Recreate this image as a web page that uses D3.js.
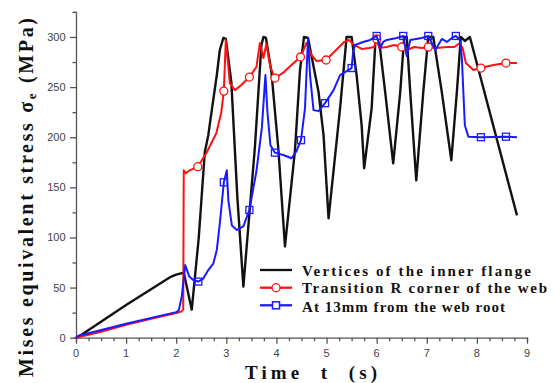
<!DOCTYPE html>
<html><head><meta charset="utf-8">
<script src="https://cdn.jsdelivr.net/npm/d3@7/dist/d3.min.js"></script>
<style>
html,body{margin:0;padding:0;background:#fff;}
svg{display:block;}
.serif{font-family:'Liberation Serif','DejaVu Serif','Times New Roman',serif;}
.sans{font-family:'Liberation Sans',Arial,sans-serif;}
</style></head>
<body>
<svg id="chart" width="554" height="383"></svg>
<script>
// ---------- DATA ----------
const xTicks = [0,1,2,3,4,5,6,7,8,9];
const yTicks = [0,50,100,150,200,250,300];
const seriesNames = ["Vertices of the inner flange","Transition R corner of the web","At 13mm from the web root"];

const blackT = [0,0.05,1.0,1.9,2.0,2.15,2.31,2.45,2.57,2.64,2.69,2.81,2.87,2.94,2.99,3.1,3.22,3.34,3.57,3.7,3.74,3.79,3.9,4.04,4.17,4.37,4.47,4.55,4.63,4.84,4.94,5.04,5.27,5.4,5.5,5.6,5.7,5.75,5.9,5.98,6.04,6.17,6.33,6.47,6.55,6.6,6.67,6.79,6.93,7.03,7.13,7.3,7.49,7.6,7.68,7.76,7.86,8.8];
const blackV = [0,1,32.6,61,63,65,28,100,185,202,220,262,287,299,298,255,140,51,190,292,300,299,265,187,91,187,267,300,299,245,202,119,229,300,300,262,212,169,229,300,300,245,174,245,300,300,245,157,245,300,300,245,177,245,300,296,300,122];

const redT = [0,0.5,1.0,1.5,2.0,2.1,2.14,2.15,2.19,2.27,2.43,2.6,2.8,2.9,2.95,2.99,3.07,3.17,3.3,3.46,3.6,3.67,3.74,3.8,3.88,3.97,4.15,4.3,4.48,4.6,4.7,4.8,4.99,5.15,5.35,5.45,5.55,5.7,5.85,5.95,6.0,6.05,6.2,6.35,6.5,6.6,6.75,6.9,7.03,7.2,7.4,7.55,7.66,7.72,7.78,7.93,8.08,8.33,8.58,8.8];
const redV = [0,6,13,19,24.5,26,28,167,164,167,170.6,184,204,225,246,297,254,247,252,260,270,294,279,293,270,259,265,272,280,294,282,276,277,285,295,297,292,288,289,290,298,289,290,292,290,287,290,289,290,289,290,290,294,288,274,267,269,272,274,274];
const redMarkT = [2.43,2.95,3.46,3.97,4.48,4.99,6.0,6.5,7.03,8.08,8.58];
const redMarkV = [170.6,246,260,259,280,277,298,290,290,269,274];

const blueT = [0,0.05,1.0,2.0,2.05,2.11,2.18,2.26,2.34,2.44,2.54,2.64,2.74,2.81,2.87,2.95,3.01,3.04,3.11,3.21,3.34,3.46,3.6,3.71,3.78,3.82,3.88,3.97,4.15,4.3,4.4,4.49,4.57,4.63,4.67,4.74,4.84,4.97,5.14,5.27,5.5,5.53,5.57,5.73,5.87,6.0,6.07,6.13,6.2,6.4,6.53,6.6,6.67,6.9,7.03,7.17,7.3,7.4,7.5,7.58,7.66,7.7,7.73,7.76,7.83,8.08,8.58,8.8];
const blueV = [0,2,14,25.5,27,41,72.5,61,57.6,56,59,67.5,74,87.5,114,155,167,137,112,107.5,111,127.4,166,210,262,225,192,184.6,182,179,186,197,229,299,262,227,226,234,247,262,269,285,292,295,297,301,289,295,297,299,301,281,297,299,301,287,298,295,299,301,297,279,245,212,200.5,200,200.5,200];
const blueMarkT = [2.44,2.95,3.46,3.97,4.49,4.97,5.5,6.0,6.53,7.03,7.58,8.08,8.58];
const blueMarkV = [56,155,127.4,184.6,197,234,269,301,301,301,301,200,200.5];

// ---------- CHART ----------
const svg = d3.select("#chart");
const x = d3.scaleLinear().domain([0,9]).range([76,527]);
const y = d3.scaleLinear().domain([0,325]).range([337.7,11.9]);

const axisColor = "#555";
// x axis
const xAxis = d3.axisBottom(x).tickValues(d3.range(0,9.001,0.25)).tickSizeOuter(0)
  .tickSize(3).tickFormat("");
const gx = svg.append("g").attr("transform",`translate(0,${y(0)})`).call(xAxis);
gx.selectAll(".tick line").attr("y2", d => Math.abs(d-Math.round(d))<1e-6 ? 6 : 3.5);
svg.append("g").selectAll("text").data(xTicks).join("text")
  .attr("class","sans")
  .attr("x", d=>x(d)).attr("y", 357)
  .attr("text-anchor","middle")
  .attr("font-size",11).attr("fill","#444").text(d=>d);

// y axis
const yAxis = d3.axisLeft(y).tickValues(d3.range(0,325.1,25)).tickSizeOuter(0)
  .tickSize(3).tickFormat("");
const gy = svg.append("g").attr("transform",`translate(${x(0)},0)`).call(yAxis);
gy.selectAll(".tick line").attr("x2", d => d%50===0 ? -6 : -3.5);
svg.append("g").selectAll("text").data(yTicks).join("text")
  .attr("class","sans")
  .attr("x", 65.5).attr("y", d=>y(d)+4)
  .attr("text-anchor","end")
  .attr("font-size",11).attr("fill","#444").text(d=>d);

svg.selectAll(".domain").attr("stroke",axisColor).attr("stroke-width",1.3);
svg.selectAll(".tick line").attr("stroke",axisColor).attr("stroke-width",1.3);

// lines
const line = d3.line().x(d=>x(d[0])).y(d=>y(d[1]));
const zip = (a,b)=>a.map((v,i)=>[v,b[i]]);
const colors = ["#111111","#ff1010","#1a1aff"];

svg.append("path").datum(zip(blackT,blackV)).attr("d",line)
  .attr("fill","none").attr("stroke",colors[0]).attr("stroke-width",2.4).attr("stroke-linejoin","round");
svg.append("path").datum(zip(redT,redV)).attr("d",line)
  .attr("fill","none").attr("stroke",colors[1]).attr("stroke-width",2).attr("stroke-linejoin","round");
svg.append("g").selectAll("circle").data(zip(redMarkT,redMarkV)).join("circle")
  .attr("cx",d=>x(d[0])).attr("cy",d=>y(d[1])).attr("r",4)
  .attr("fill","#fff").attr("stroke",colors[1]).attr("stroke-width",1.3);
svg.append("path").datum(zip(blueT,blueV)).attr("d",line)
  .attr("fill","none").attr("stroke",colors[2]).attr("stroke-width",2).attr("stroke-linejoin","round");
svg.append("g").selectAll("rect").data(zip(blueMarkT,blueMarkV)).join("rect")
  .attr("x",d=>x(d[0])-3.5).attr("y",d=>y(d[1])-3.5).attr("width",7).attr("height",7)
  .attr("fill","none").attr("stroke",colors[2]).attr("stroke-width",1.3);

// legend
const legY = [270,287.7,305.3];
const legBase = [276,293.3,311.7];
const legLen = [229,245,203];
const leg = svg.append("g");
seriesNames.forEach((name,i)=>{
  leg.append("line").attr("x1",260).attr("x2",292).attr("y1",legY[i]).attr("y2",legY[i])
    .attr("stroke",colors[i]).attr("stroke-width",2.3);
  if(i===1) leg.append("circle").attr("cx",276).attr("cy",legY[i]).attr("r",4)
    .attr("fill","#fff").attr("stroke",colors[1]).attr("stroke-width",1.3);
  if(i===2) leg.append("rect").attr("x",272.5).attr("y",legY[i]-3.5).attr("width",7).attr("height",7)
    .attr("fill","#fff").attr("stroke",colors[2]).attr("stroke-width",1.5);
  leg.append("text").attr("class","serif").attr("x",302).attr("y",legBase[i])
    .attr("font-weight","bold").attr("font-size",15)
    .attr("textLength",legLen[i]).attr("lengthAdjust","spacing")
    .attr("fill","#111").text(name);
});

// axis titles
svg.append("text").attr("class","serif").attr("x",245).attr("y",379)
  .style("white-space","pre")
  .attr("font-weight","bold").attr("font-size",19)
  .attr("textLength",132).attr("lengthAdjust","spacing").attr("fill","#111")
  .text("Time  t  (s)");

const yt = svg.append("text").attr("class","serif").attr("transform","translate(33,377) rotate(-90)")
  .attr("font-weight","bold").attr("font-size",20)
  .attr("textLength",359).attr("lengthAdjust","spacing").attr("fill","#111")
  .style("white-space","pre");
yt.append("tspan").text("Mises equivalent stress σ");
yt.append("tspan").attr("font-size",13).attr("dy",3).text("e");
yt.append("tspan").attr("dy",-3).text(" (MPa)");
</script>
</body></html>
